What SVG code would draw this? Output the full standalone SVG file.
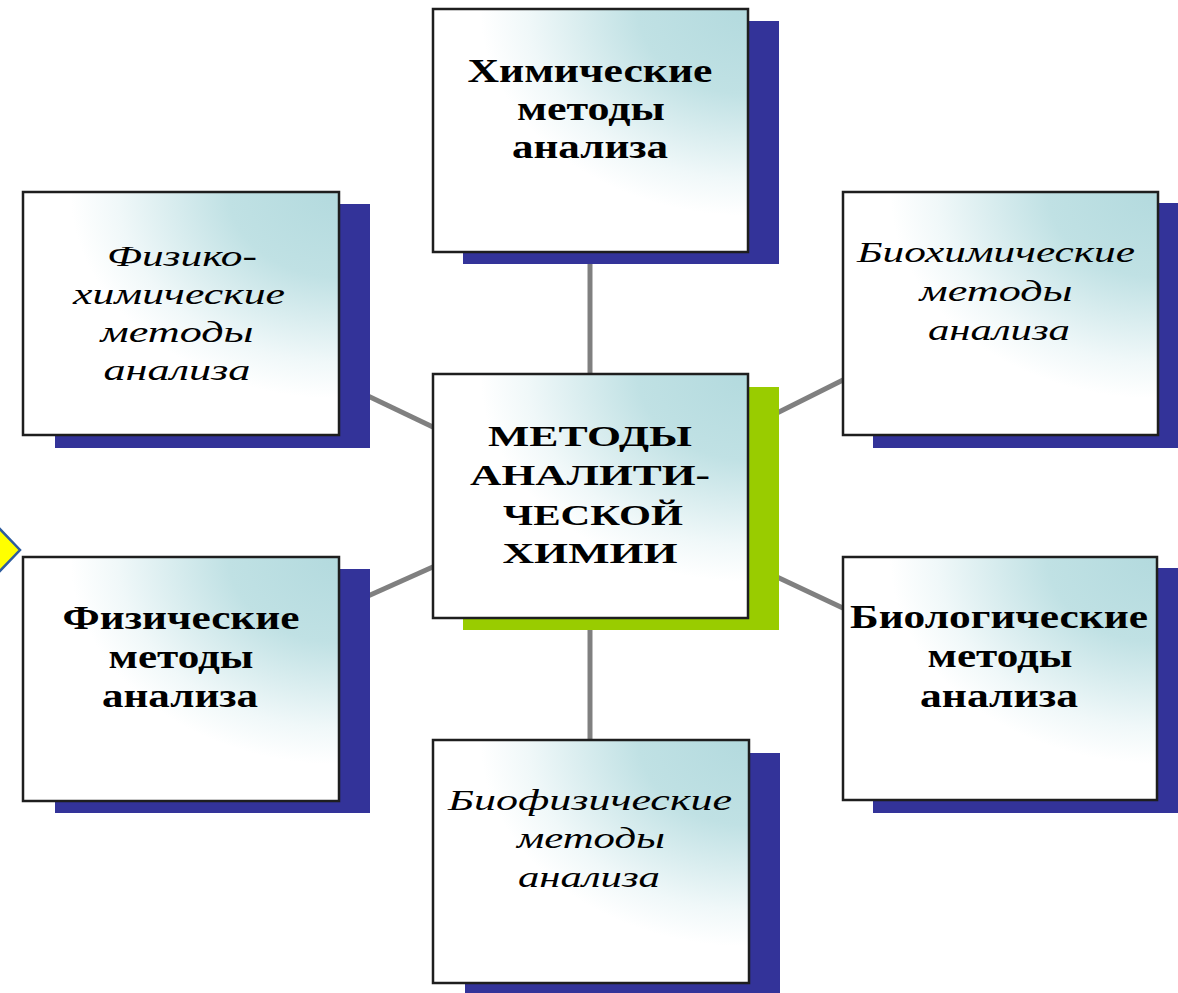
<svg xmlns="http://www.w3.org/2000/svg" width="1178" height="993" viewBox="0 0 1178 993">
<defs>
<radialGradient id="fill" cx="1" cy="0" r="1" fx="1" fy="0">
<stop offset="0" stop-color="#B3DADE"/>
<stop offset="0.35" stop-color="#C0E1E4"/>
<stop offset="0.7" stop-color="#F0F8F9"/>
<stop offset="0.85" stop-color="#FFFFFF"/>
</radialGradient>
</defs>
<style>
.box{fill:url(#fill);stroke:#1E1E1E;stroke-width:2.5}
.sh{fill:#333399}
.gr{fill:#99CC00}
.con{stroke:#808080;stroke-width:5;fill:none}
.b{font-family:"Liberation Serif","Times New Roman",serif;font-weight:bold;font-size:33px;fill:#000;text-anchor:middle}
.c{font-family:"Liberation Serif","Times New Roman",serif;font-weight:bold;font-size:30px;fill:#000;text-anchor:middle}
.i{font-family:"Liberation Serif","Times New Roman",serif;font-style:italic;font-size:30px;fill:#000;text-anchor:middle}
</style>
<rect width="1178" height="993" fill="#FFFFFF"/>
<g id="connectors">
<line class="con" x1="590" y1="252" x2="590" y2="376"/>
<line class="con" x1="590" y1="616" x2="590" y2="742"/>
<line class="con" x1="368" y1="396" x2="435" y2="428"/>
<line class="con" x1="368" y1="596" x2="435" y2="566"/>
<line class="con" x1="777" y1="413" x2="845" y2="379"/>
<line class="con" x1="777" y1="577" x2="845" y2="609"/>
</g>
<g id="arrow">
<polygon points="-2,527 20,550 -2,573" fill="#FFFF00" stroke="#2E5C9E" stroke-width="2.5"/>
</g>
<g id="n-top">
<rect class="sh" x="463" y="21" width="316" height="243"/>
<rect class="box" x="433" y="9" width="315" height="243"/>
<text class="b" x="590" y="82" textLength="245" lengthAdjust="spacingAndGlyphs">Химические</text>
<text class="b" x="591" y="120" textLength="148" lengthAdjust="spacingAndGlyphs">методы</text>
<text class="b" x="590" y="158" textLength="156" lengthAdjust="spacingAndGlyphs">анализа</text>
</g>
<g id="n-center">
<rect class="gr" x="463" y="387" width="316" height="243"/>
<rect class="box" x="433" y="374" width="315" height="244"/>
<text class="c" x="590" y="446" textLength="204" lengthAdjust="spacingAndGlyphs">МЕТОДЫ</text>
<text class="c" x="590" y="485" textLength="240" lengthAdjust="spacingAndGlyphs">АНАЛИТИ-</text>
<text class="c" x="593" y="525" textLength="180" lengthAdjust="spacingAndGlyphs">ЧЕСКОЙ</text>
<text class="c" x="590" y="563" textLength="175" lengthAdjust="spacingAndGlyphs">ХИМИИ</text>
</g>
<g id="n-left-top">
<rect class="sh" x="55" y="204" width="315" height="244"/>
<rect class="box" x="23" y="192" width="316" height="243"/>
<text class="i" x="182" y="266" textLength="150" lengthAdjust="spacingAndGlyphs">Физико-</text>
<text class="i" x="179" y="304" textLength="212" lengthAdjust="spacingAndGlyphs">химические</text>
<text class="i" x="177" y="342" textLength="153" lengthAdjust="spacingAndGlyphs">методы</text>
<text class="i" x="177" y="380" textLength="147" lengthAdjust="spacingAndGlyphs">анализа</text>
</g>
<g id="n-left-bottom">
<rect class="sh" x="55" y="569" width="315" height="244"/>
<rect class="box" x="23" y="557" width="316" height="244"/>
<text class="b" x="181" y="629" textLength="237" lengthAdjust="spacingAndGlyphs">Физические</text>
<text class="b" x="181" y="668" textLength="145" lengthAdjust="spacingAndGlyphs">методы</text>
<text class="b" x="180" y="707" textLength="156" lengthAdjust="spacingAndGlyphs">анализа</text>
</g>
<g id="n-right-top">
<rect class="sh" x="873" y="203" width="315" height="245"/>
<rect class="box" x="843" y="192" width="315" height="243"/>
<text class="i" x="996" y="262" textLength="278" lengthAdjust="spacingAndGlyphs">Биохимические</text>
<text class="i" x="996" y="301" textLength="153" lengthAdjust="spacingAndGlyphs">методы</text>
<text class="i" x="999" y="340" textLength="142" lengthAdjust="spacingAndGlyphs">анализа</text>
</g>
<g id="n-right-bottom">
<rect class="sh" x="873" y="568" width="315" height="245"/>
<rect class="box" x="843" y="557" width="314" height="243"/>
<text class="b" x="999" y="628" textLength="298" lengthAdjust="spacingAndGlyphs">Биологические</text>
<text class="b" x="1000" y="667" textLength="145" lengthAdjust="spacingAndGlyphs">методы</text>
<text class="b" x="999" y="707" textLength="158" lengthAdjust="spacingAndGlyphs">анализа</text>
</g>
<g id="n-bottom">
<rect class="sh" x="465" y="753" width="315" height="245"/>
<rect class="box" x="433" y="740" width="316" height="243"/>
<text class="i" x="590" y="810" textLength="284" lengthAdjust="spacingAndGlyphs">Биофизические</text>
<text class="i" x="591" y="848" textLength="148" lengthAdjust="spacingAndGlyphs">методы</text>
<text class="i" x="589" y="887" textLength="142" lengthAdjust="spacingAndGlyphs">анализа</text>
</g>
</svg>
